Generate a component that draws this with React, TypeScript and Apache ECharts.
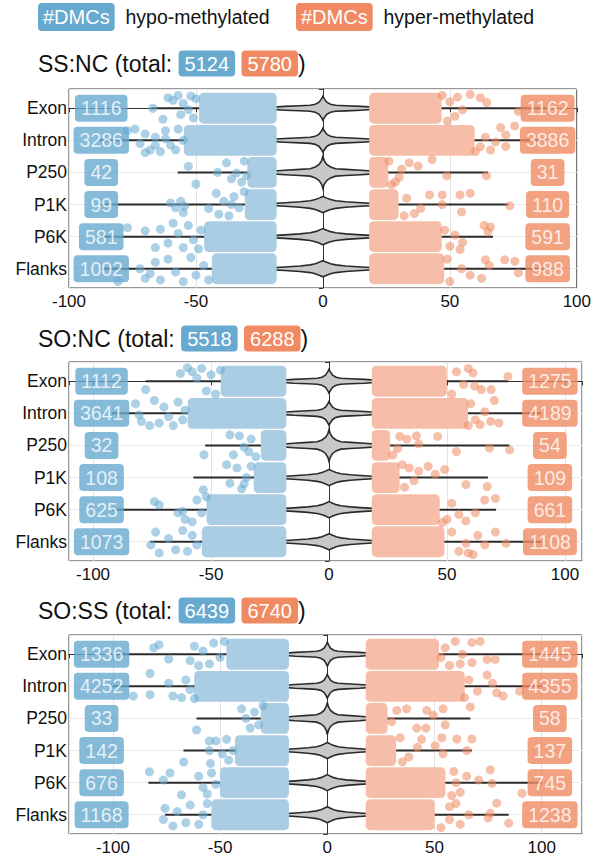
import React, { useEffect, useRef } from "react";
import * as echarts from "echarts";

// ---------------- data ----------------
const rowNames = ["Exon", "Intron", "P250", "P1K", "P6K", "Flanks"];
const panelNames = ["SS:NC", "SO:NC", "SO:SS"];
const hypoTotals = [5124, 5518, 6439];
const hyperTotals = [5780, 6288, 6740];
const legendLabels = ["hypo-methylated", "hyper-methylated"];
const legendBadge = "#DMCs";

const hypoCounts1 = [1116, 3286, 42, 99, 581, 1002];
const hyperCounts1 = [1162, 3886, 31, 110, 591, 988];
const hypoCounts2 = [1112, 3641, 32, 108, 625, 1073];
const hyperCounts2 = [1275, 4189, 54, 109, 661, 1108];
const hypoCounts3 = [1336, 4252, 33, 142, 676, 1168];
const hyperCounts3 = [1445, 4355, 58, 137, 745, 1238];

// full range of each violin (min, max)
const rangeMin1 = [-67.6, -88, -57.2, -88, -88, -88];
const rangeMax1 = [88, 88, 65, 73, 67, 88];
const rangeMin2 = [-77.7, -92, -52.5, -57.5, -92, -75.8];
const rangeMax2 = [75.8, 90, 76.5, 67.3, 70.8, 90];
const rangeMin3 = [-100, -100, -61, -67.1, -83.5, -75.7];
const rangeMax3 = [100, 100, 66.7, 67.4, 100, 84.6];

// violin density profiles (half widths in row units at violinX)
const violinX = [-22, -15, -9, -5, -3, -1.5, -0.5, 0, 0.5, 1.5, 3, 5, 9, 15, 22];
const violinSharp = [0.025, 0.06, 0.08, 0.095, 0.125, 0.19, 0.3, 0.375, 0.3, 0.19, 0.125, 0.095, 0.08, 0.06, 0.025];
const violinTall = [0.03, 0.07, 0.095, 0.115, 0.17, 0.25, 0.37, 0.5, 0.37, 0.25, 0.17, 0.115, 0.095, 0.07, 0.03];
const violinFlat = [0.025, 0.055, 0.085, 0.12, 0.156, 0.2, 0.234, 0.25, 0.234, 0.2, 0.156, 0.12, 0.085, 0.055, 0.025];
const violinShapeOfRow = [0, 0, 1, 2, 2, 2];

// dense point clouds: [row, xFrom, xTo]
const hypoBlocks1 = [[0, -47, -20], [1, -53, -20], [2, -28, -20], [3, -29, -20], [4, -45, -20], [5, -42, -20]];
const hyperBlocks1 = [[0, 20, 45], [1, 20, 58], [2, 20, 24], [3, 20, 28], [4, 20, 45], [5, 20, 46]];
const hypoBlocks2 = [[0, -44, -20], [1, -58, -20], [2, -27, -20], [3, -30, -20], [4, -50, -20], [5, -52, -20]];
const hyperBlocks2 = [[0, 20, 48], [1, 20, 57], [2, 20, 24], [3, 20, 28], [4, 20, 45], [5, 20, 47]];
const hypoBlocks3 = [[0, -45, -20], [1, -60, -20], [2, -29, -20], [3, -41, -20], [4, -48, -20], [5, -52, -20]];
const hyperBlocks3 = [[0, 20, 50], [1, 20, 62], [2, 20, 26], [3, 20, 30], [4, 20, 53], [5, 20, 48]];

// individual jittered points outside the dense clouds: [x, row, jitter]
const hypoDots1 = [
  [-67, 0, 0.0], [-63, 0, 0.34], [-61, 0, -0.33], [-59, 0, -0.25], [-57, 0, -0.4], [-55, 0, -0.15], [-53, 0, 0.05], [-52, 0, -0.38], [-56, 0, 0.2], [-51, 0, 0.3], [-50, 0, -0.3],
  [-77, 1, -0.3], [-74, 1, -0.35], [-72, 1, 0.1], [-70, 1, -0.2], [-68, 1, 0.3], [-66, 1, -0.1], [-64, 1, 0.35], [-62, 1, -0.3], [-60, 1, 0.15], [-58, 1, 0.3], [-57, 1, -0.35], [-55, 1, 0.0], [-66, 1, 0.15], [-70, 1, 0.38], [-62, 1, -0.05],
  [-53, 2, -0.19], [-50, 2, 0.36], [-41.5, 2, 0], [-38, 2, -0.3], [-34, 2, 0.02], [-32, 2, 0.3], [-31, 2, -0.35], [-36, 2, 0.2], [-30, 2, 0.1],
  [-60, 3, -0.05], [-58, 3, 0.1], [-56, 3, -0.1], [-55, 3, 0.25], [-54.5, 3, 0.05], [-45, 3, 0.12], [-42, 3, -0.35], [-41, 3, 0.3], [-39, 3, -0.1], [-37, 3, 0.35], [-35, 3, -0.25], [-33, 3, 0.1], [-31, 3, -0.4], [-36, 3, 0.0],
  [-77, 4, -0.28], [-70, 4, -0.18], [-66, 4, 0.34], [-64, 4, -0.23], [-59, 4, -0.42], [-57, 4, -0.1], [-55, 4, 0.34], [-53, 4, -0.35], [-51, 4, 0.1], [-49, 4, 0.38], [-48, 4, -0.2], [-61, 4, 0.2],
  [-80.7, 5, 0.4], [-72, 5, 0.0], [-70, 5, 0.3], [-66, 5, -0.2], [-64, 5, 0.35], [-61, 5, -0.3], [-58, 5, 0.1], [-55, 5, 0.4], [-52, 5, -0.35], [-50, 5, 0.2], [-47, 5, -0.1], [-45, 5, 0.35], [-68, 5, 0.15],
];
const hyperDots1 = [
  [77, 0, 0.1], [64.5, 0, -0.18], [62, 0, -0.33], [58, 0, -0.43], [55, 0, 0.05], [52, 0, 0.25], [50, 0, -0.2], [49, 0, 0.4], [47, 0, -0.4], [53, 0, -0.35],
  [62, 1, 0.2], [64, 1, -0.1], [66, 1, 0.3], [70, 1, -0.4], [72, 1, -0.17], [72, 1, 0.19], [75.5, 1, -0.45], [60, 1, 0.35], [68, 1, 0.05],
  [64.4, 2, 0.1], [48.8, 2, 0.1], [43, 2, -0.4], [37.5, 2, -0.2], [34, 2, -0.3], [31, 2, -0.1], [28.5, 2, 0.3], [30, 2, 0.15], [26, 2, -0.35], [27, 2, 0.38],
  [42, 3, -0.3], [47, 3, -0.3], [54, 3, -0.3], [58, 3, -0.35], [47, 3, 0.0], [54.6, 3, 0.23], [73.6, 3, 0.04], [36, 3, 0.28], [38.5, 3, 0.12], [33, 3, -0.2], [32, 3, 0.35],
  [50, 4, 0.3], [52, 4, -0.05], [54, 4, 0.4], [55, 4, 0.18], [63.5, 4, -0.35], [65, 4, -0.15], [66, 4, -0.3], [48, 4, -0.2],
  [64, 5, -0.28], [65.5, 5, -0.1], [71.6, 5, -0.28], [75.6, 5, -0.23], [77, 5, 0.13], [62.5, 5, 0.3], [58, 5, 0.2], [50, 5, 0.4], [54.6, 5, 0.0], [49, 5, -0.3],
];
const hypoDots2 = [
  [-77.7, 0, 0.26], [-63, 0, -0.24], [-60, 0, -0.42], [-58, 0, -0.3], [-56, 0, -0.1], [-54, 0, -0.4], [-52, 0, 0.3], [-50, 0, -0.2], [-48, 0, 0.4], [-46, 0, -0.35],
  [-82, 1, -0.3], [-80.5, 1, 0.05], [-79.5, 1, 0.25], [-74, 1, -0.4], [-72, 1, 0.3], [-70, 1, -0.2], [-68, 1, 0.1], [-66, 1, 0.38], [-64, 1, -0.35], [-62, 1, 0.2], [-61, 1, -0.1], [-76, 1, 0.38],
  [-53, 2, 0.29], [-40.5, 2, 0.29], [-42, 2, -0.33], [-38, 2, -0.3], [-36, 2, 0.05], [-33, 2, -0.2], [-31, 2, 0.35], [-34, 2, 0.2],
  [-53.3, 3, 0.38], [-43.4, 3, -0.4], [-42, 3, 0.18], [-39, 3, -0.3], [-37, 3, 0.35], [-35, 3, 0.0], [-33, 3, -0.35], [-36, 3, 0.2],
  [-74, 4, -0.25], [-72, 4, -0.15], [-64, 4, 0.1], [-61, 4, 0.3], [-58, 4, 0.38], [-56, 4, -0.3], [-54, 4, 0.1], [-52, 4, -0.4], [-62, 4, 0.05],
  [-75.5, 5, 0.1], [-73.5, 5, -0.3], [-72, 5, 0.35], [-68, 5, -0.1], [-65, 5, 0.25], [-62, 5, -0.35], [-60, 5, 0.3], [-58, 5, -0.2], [-56, 5, 0.1],
];
const hyperDots2 = [
  [75.8, 0, -0.15], [68.7, 0, 0.26], [64.5, 0, 0.26], [61.7, 0, 0.15], [61, 0, -0.26], [57, 0, 0.1], [54, 0, -0.3], [52, 0, 0.4], [59, 0, -0.4],
  [60, 1, -0.3], [62, 1, 0.2], [64, 1, 0.35], [66, 1, -0.05], [68.5, 1, 0.25], [72, 1, 0.3], [70, 1, -0.4], [59, 1, 0.38],
  [30, 2, -0.28], [33, 2, -0.2], [37, 2, -0.3], [46, 2, -0.28], [54, 2, 0.19], [68, 2, 0.08], [76.5, 2, 0.14], [38, 2, -0.05], [27, 2, 0.3], [29, 2, 0.1],
  [31, 3, -0.4], [34, 3, -0.3], [38, 3, -0.2], [42, 3, -0.35], [45, 3, -0.1], [58, 3, 0.22], [67, 3, 0.28], [49, 3, -0.25], [36, 3, 0.1], [32, 3, 0.3],
  [50, 4, 0.3], [52, 4, -0.2], [55, 4, 0.15], [58, 4, 0.35], [62, 4, 0.1], [66, 4, -0.3], [70.5, 4, -0.35], [48, 4, 0.4],
  [52, 5, -0.3], [55, 5, 0.3], [58, 5, 0.05], [61, 5, 0.4], [63, 5, -0.2], [66, 5, 0.1], [70.5, 5, -0.3], [75, 5, 0.05], [59, 5, 0.35],
];
const hypoDots3 = [
  [-81, 0, -0.2], [-78.5, 0, -0.3], [-74, 0, 0.15], [-64, 0, 0.2], [-62, 0, -0.25], [-60, 0, 0.35], [-58, 0, -0.1], [-55, 0, 0.3], [-53, 0, -0.35], [-50, 0, 0.1], [-48, 0, -0.4],
  [-90.5, 1, 0.3], [-82.7, 1, -0.4], [-82.7, 1, 0.26], [-74, 1, -0.1], [-72, 1, 0.3], [-68, 1, 0.35], [-66, 1, -0.2], [-64, 1, 0.1], [-62, 1, 0.38],
  [-61, 2, 0.36], [-40, 2, -0.3], [-38, 2, 0.0], [-36, 2, 0.3], [-34, 2, -0.2], [-32, 2, 0.2], [-30, 2, -0.4],
  [-67, 3, 0.36], [-55, 3, -0.3], [-55, 3, 0.0], [-54.5, 3, 0.4], [-52, 3, -0.3], [-49, 3, 0.1], [-47, 3, -0.35], [-46, 3, 0.3], [-44, 3, 0.0],
  [-83, 4, -0.34], [-76.5, 4, -0.08], [-73.4, 4, -0.3], [-68, 4, 0.38], [-60, 4, -0.2], [-58, 4, 0.15], [-56, 4, 0.35], [-54, 4, -0.3], [-52, 4, 0.05],
  [-76.5, 5, 0.15], [-75.7, 5, -0.2], [-72, 5, 0.35], [-70, 5, -0.1], [-66, 5, 0.25], [-64, 5, -0.3], [-60, 5, 0.3], [-58, 5, 0.0], [-56, 5, -0.35],
];
const hyperDots3 = [
  [59.7, 0, -0.4], [62, 0, 0.3], [67.4, 0, -0.37], [67.5, 0, 0.26], [71.3, 0, -0.4], [74.5, 0, 0.16], [78.3, 0, 0.16], [63, 0, 0.0], [55, 0, -0.2], [57, 0, 0.35], [53, 0, 0.1],
  [64, 1, 0.35], [66, 1, -0.2], [70, 1, 0.15], [74.5, 1, -0.35], [77, 1, -0.1], [79, 1, 0.2], [82, 1, 0.3], [89.7, 1, 0.15],
  [32.4, 2, -0.25], [37, 2, -0.3], [46.4, 2, -0.25], [49.5, 2, -0.1], [54, 2, -0.3], [55, 2, 0.2], [66.7, 2, -0.36], [41.7, 2, 0.3], [46, 2, 0.3], [30, 2, 0.1],
  [34, 3, -0.4], [44, 3, -0.35], [50.3, 3, -0.15], [53.4, 3, -0.4], [54, 3, 0.1], [60.4, 3, -0.36], [67.4, 3, -0.36], [65, 3, 0.0], [38, 3, 0.2], [42, 3, -0.1], [35, 3, 0.35],
  [59, 4, -0.35], [60, 4, 0.0], [62, 4, 0.3], [70.6, 4, -0.08], [76, 4, -0.4], [76.8, 4, 0.02], [90.8, 4, 0.33], [58, 4, 0.4], [65, 4, -0.2],
  [57, 5, -0.25], [57, 5, 0.15], [60, 5, -0.35], [62, 5, 0.3], [66, 5, 0.0], [76, 5, -0.05], [79, 5, -0.36], [84.6, 5, 0.26], [75, 5, 0.1], [53, 5, 0.4],
];

// ---------------- layout / style ----------------
const BLUE = "#67a9cf";
const ORANGE = "#ef8a62";
const BLUE_CLOUD = "#aacde4";
const ORANGE_CLOUD = "#f6bea8";
const FONT = "'Liberation Sans', Arial, Helvetica, sans-serif";
const JITTER = 0.34;
const DOT_R = 4.5;

const panelLayout = [
  { top: 89, xMin: -100, xMax: 100, labelL: -87.3, labelR: 88.5, titleTop: 52 },
  { top: 362, xMin: -110.2, xMax: 107.2, labelL: -96.4, labelR: 93.6, titleTop: 327 },
  { top: 635, xMin: -120.5, xMax: 118.8, labelL: -105.3, labelR: 103.8, titleTop: 599 },
];

const panelData = [
  { hypoC: hypoCounts1, hyperC: hyperCounts1, lo: rangeMin1, hi: rangeMax1, hypoB: hypoBlocks1, hyperB: hyperBlocks1, hypoD: hypoDots1, hyperD: hyperDots1 },
  { hypoC: hypoCounts2, hyperC: hyperCounts2, lo: rangeMin2, hi: rangeMax2, hypoB: hypoBlocks2, hyperB: hyperBlocks2, hypoD: hypoDots2, hyperD: hyperDots2 },
  { hypoC: hypoCounts3, hyperC: hyperCounts3, lo: rangeMin3, hi: rangeMax3, hypoB: hypoBlocks3, hyperB: hyperBlocks3, hypoD: hypoDots3, hyperD: hyperDots3 },
];

const violinProfiles = [violinSharp, violinTall, violinFlat];
const xTickValues = [-100, -50, 0, 50, 100];
function xTickOk(v: number) {
  return xTickValues.some((t) => Math.abs(t - v) < 1e-6);
}

function blockSeries(idx: number, data: number[][], color: string) {
  return {
    type: "custom",
    xAxisIndex: idx,
    yAxisIndex: idx,
    z: 3,
    encode: { x: [1, 2], y: 0 },
    data,
    renderItem: (_p: any, api: any) => {
      const row = api.value(0);
      const a = api.coord([api.value(1), row - JITTER]);
      const b = api.coord([api.value(2), row + JITTER]);
      const left = Math.min(a[0], b[0]) - DOT_R;
      const right = Math.max(a[0], b[0]) + DOT_R;
      const top = Math.min(a[1], b[1]) - DOT_R;
      const bottom = Math.max(a[1], b[1]) + DOT_R;
      return {
        type: "rect",
        shape: { x: left, y: top, width: right - left, height: bottom - top, r: DOT_R },
        style: { fill: color },
      };
    },
  };
}

function dotSeries(idx: number, dots: number[][], color: string) {
  return {
    type: "scatter",
    xAxisIndex: idx,
    yAxisIndex: idx,
    z: 4,
    symbolSize: DOT_R * 2,
    itemStyle: { color, opacity: 0.55 },
    data: dots.map((d) => [d[0], d[1] + d[2]]),
  };
}

function badgeSeries(idx: number, x: number, counts: number[], color: string) {
  return {
    type: "scatter",
    xAxisIndex: idx,
    yAxisIndex: idx,
    z: 6,
    symbolSize: 0,
    data: counts.map((c, r) => [x, r, c]),
    label: {
      show: true,
      position: "inside",
      formatter: (p: any) => String(p.value[2]),
      backgroundColor: color,
      color: "#fff",
      fontSize: 19.5,
      lineHeight: 20,
      fontFamily: FONT,
      padding: [4, 6, 3, 6],
      borderRadius: 4,
    },
  };
}

function violinSeries(idx: number, lo: number[], hi: number[]) {
  return {
    type: "custom",
    xAxisIndex: idx,
    yAxisIndex: idx,
    z: 2,
    encode: { x: [1, 2], y: 0 },
    data: rowNames.map((_, r) => [r, lo[r], hi[r], violinShapeOfRow[r]]),
    renderItem: (_p: any, api: any) => {
      const row = api.value(0);
      const prof = violinProfiles[api.value(3)];
      const topPts = violinX.map((x, k) => api.coord([x, row - prof[k]]));
      const botPts = violinX.map((x, k) => api.coord([x, row + prof[k]])).reverse();
      const a = api.coord([api.value(1), row]);
      const b = api.coord([api.value(2), row]);
      return {
        type: "group",
        children: [
          { type: "line", shape: { x1: a[0], y1: a[1], x2: b[0], y2: b[1] }, style: { stroke: "#2a2a2a", lineWidth: 2 } },
          { type: "polygon", shape: { points: topPts.concat(botPts) }, style: { fill: "#c8c8c8", stroke: "#2a2a2a", lineWidth: 1.6 } },
        ],
      };
    },
  };
}

function buildOption() {
  const grid: any[] = [];
  const xAxis: any[] = [];
  const yAxis: any[] = [];
  const series: any[] = [];
  const title: any[] = [];
  const badgeRich = (fs: number, pad: number[]) => ({
    b: { backgroundColor: BLUE, color: "#fff", fontSize: fs, lineHeight: fs, fontFamily: FONT, borderRadius: 4, padding: pad },
    o: { backgroundColor: ORANGE, color: "#fff", fontSize: fs, lineHeight: fs, fontFamily: FONT, borderRadius: 4, padding: pad },
  });
  title.push({
    left: 38,
    top: 7,
    padding: 0,
    text: `{b|${legendBadge}}  ${legendLabels[0]}`,
    textStyle: { fontSize: 19.5, fontWeight: "normal", color: "#111", fontFamily: FONT, rich: badgeRich(20, [4, 5, 4, 5]) },
  });
  title.push({
    left: 296,
    top: 7,
    padding: 0,
    text: `{o|${legendBadge}}  ${legendLabels[1]}`,
    textStyle: { fontSize: 19.5, fontWeight: "normal", color: "#111", fontFamily: FONT, rich: badgeRich(20, [4, 5, 4, 5]) },
  });
  panelLayout.forEach((L, i) => {
    const D = panelData[i];
    title.push({
      left: 38,
      top: L.titleTop,
      padding: 0,
      text: `${panelNames[i]} (total: {b|${hypoTotals[i]}} {o|${hyperTotals[i]}})`,
      textStyle: { fontSize: 23, fontWeight: "normal", color: "#111", fontFamily: FONT, rich: badgeRich(20, [3, 6, 3, 6]) },
    });
    grid.push({ left: 69, right: 12, top: L.top, height: 199, show: true, borderColor: "#333", borderWidth: 1, backgroundColor: "transparent" });
    xAxis.push({
      type: "value",
      gridIndex: i,
      min: L.xMin,
      max: L.xMax,
      ...(i === 0 ? { interval: 50 } : { splitNumber: 4 }),
      axisLine: { show: true, lineStyle: { color: "#333" } },
      axisTick: { show: true, length: 4, lineStyle: { color: "#333" } },
      axisLabel: {
        fontSize: 17,
        color: "#111",
        fontFamily: FONT,
        margin: 5,
        formatter: (v: number) => (xTickOk(v) ? String(v) : ""),
      },
      splitLine: { show: true, lineStyle: { color: "#e3e3e3", width: 1 } },
    });
    yAxis.push({
      type: "value",
      gridIndex: i,
      inverse: true,
      min: -0.6,
      max: 5.6,
      splitNumber: 6,
      axisLine: { show: true, lineStyle: { color: "#333" } },
      axisTick: { show: true, length: 4, lineStyle: { color: "#333" } },
      axisLabel: {
        fontSize: 17.5,
        color: "#111",
        fontFamily: FONT,
        margin: 2,
        formatter: (v: number) => {
          const r = Math.round(v);
          return Math.abs(v - r) < 1e-6 && r >= 0 && r < rowNames.length ? rowNames[r] : "";
        },
      },
      splitLine: { show: true, lineStyle: { color: "#ebebeb", width: 1 } },
    });
    series.push(violinSeries(i, D.lo, D.hi));
    series.push(blockSeries(i, D.hypoB, BLUE_CLOUD));
    series.push(blockSeries(i, D.hyperB, ORANGE_CLOUD));
    series.push(dotSeries(i, D.hypoD, BLUE));
    series.push(dotSeries(i, D.hyperD, ORANGE));
    series.push(badgeSeries(i, L.labelL, D.hypoC, BLUE));
    series.push(badgeSeries(i, L.labelR, D.hyperC, ORANGE));
  });
  return { animation: false, backgroundColor: "#fff", textStyle: { fontFamily: FONT }, title, grid, xAxis, yAxis, series };
}

export default function App() {
  const ref = useRef<HTMLDivElement>(null);
  useEffect(() => {
    if (!ref.current) return;
    const chart = echarts.init(ref.current, null, { renderer: "svg" });
    chart.setOption(buildOption() as any);
    return () => chart.dispose();
  }, []);
  return <div ref={ref} style={{ position: "fixed", left: 0, top: 0, width: 594, height: 860 }} />;
}
